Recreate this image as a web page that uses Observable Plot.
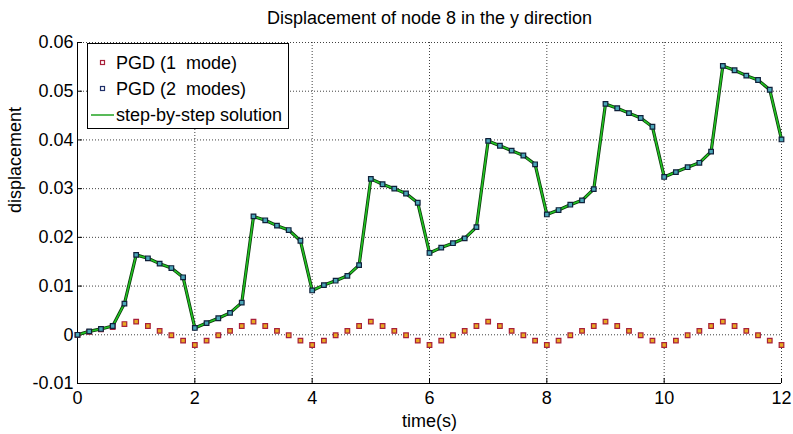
<!DOCTYPE html>
<html><head><meta charset="utf-8">
<script src="https://cdn.jsdelivr.net/npm/d3@7"></script>
<script src="https://cdn.jsdelivr.net/npm/@observablehq/plot@0.6"></script>
<style>body{margin:0;background:#fff} svg{display:block}</style>
</head><body><div id="chart"></div><script>
const titleText = "Displacement of node 8 in the y direction";
const xLabel = "time(s)";
const yLabel = "displacement";
const seriesNames = ["PGD (1  mode)", "PGD (2  modes)", "step-by-step solution"];
const xTicks = [0, 2, 4, 6, 8, 10, 12];
const yTicks = [-0.01, 0, 0.01, 0.02, 0.03, 0.04, 0.05, 0.06];
const time = [0,0.2,0.4,0.6,0.8,1,1.2,1.4,1.6,1.8,2,2.2,2.4,2.6,2.8,3,3.2,3.4,3.6,3.8,4,4.2,4.4,4.6,4.8,5,5.2,5.4,5.6,5.8,6,6.2,6.4,6.6,6.8,7,7.2,7.4,7.6,7.8,8,8.2,8.4,8.6,8.8,9,9.2,9.4,9.6,9.8,10,10.2,10.4,10.6,10.8,11,11.2,11.4,11.6,11.8,12];
const pgd1 = [0, 0.0006, 0.0011, 0.0016, 0.0022, 0.0027, 0.0018, 0.0008, -0.0001, -0.0012,
  -0.0021, -0.0012, -0.0001, 0.0008, 0.0018, 0.0027, 0.0018, 0.0008, -0.0001, -0.0012,
  -0.0021, -0.0012, -0.0001, 0.0008, 0.0018, 0.0027, 0.0018, 0.0008, -0.0001, -0.0012,
  -0.0021, -0.0012, -0.0001, 0.0008, 0.0018, 0.0027, 0.0018, 0.0008, -0.0001, -0.0012,
  -0.0021, -0.0012, -0.0001, 0.0008, 0.0018, 0.0027, 0.0018, 0.0008, -0.0001, -0.0012,
  -0.0021, -0.0012, -0.0001, 0.0008, 0.0018, 0.0027, 0.0018, 0.0008, -0.0001, -0.0012,
  -0.0021];
const pgd2 = [0.0000, 0.0007, 0.0012, 0.0018, 0.0064, 0.0164, 0.0157, 0.0146, 0.0137, 0.0118,
  0.0014, 0.0024, 0.0034, 0.0045, 0.0066, 0.0243, 0.0235, 0.0224, 0.0215, 0.0193,
  0.0091, 0.0102, 0.0111, 0.0121, 0.0143, 0.0320, 0.0309, 0.0300, 0.0290, 0.0271,
  0.0168, 0.0179, 0.0188, 0.0198, 0.0221, 0.0398, 0.0388, 0.0378, 0.0368, 0.0350,
  0.0247, 0.0256, 0.0267, 0.0276, 0.0299, 0.0474, 0.0465, 0.0455, 0.0445, 0.0427,
  0.0324, 0.0334, 0.0344, 0.0353, 0.0376, 0.0552, 0.0543, 0.0532, 0.0523, 0.0503,
  0.0401];
const stepSol = [0.0000, 0.0007, 0.0012, 0.0018, 0.0064, 0.0164, 0.0157, 0.0146, 0.0137, 0.0118,
  0.0014, 0.0024, 0.0034, 0.0045, 0.0066, 0.0243, 0.0235, 0.0224, 0.0215, 0.0193,
  0.0091, 0.0102, 0.0111, 0.0121, 0.0143, 0.0320, 0.0309, 0.0300, 0.0290, 0.0271,
  0.0168, 0.0179, 0.0188, 0.0198, 0.0221, 0.0398, 0.0388, 0.0378, 0.0368, 0.0350,
  0.0247, 0.0256, 0.0267, 0.0276, 0.0299, 0.0474, 0.0465, 0.0455, 0.0445, 0.0427,
  0.0324, 0.0334, 0.0344, 0.0353, 0.0376, 0.0552, 0.0543, 0.0532, 0.0523, 0.0503,
  0.0401];

const d1 = time.map((t, i) => ({t, v: pgd1[i]}));
const d2 = time.map((t, i) => ({t, v: pgd2[i]}));
const ds = time.map((t, i) => ({t, v: stepSol[i]}));
const font = "'Liberation Sans', Arial, Helvetica, sans-serif";

const chart = Plot.plot({
  width: 793, height: 434,
  marginLeft: 77, marginRight: 12, marginTop: 42, marginBottom: 51,
  style: {fontFamily: font, fontSize: "17px", color: "#000", background: "#fff", overflow: "visible"},
  x: {domain: [0, 12]},
  y: {domain: [-0.01, 0.06]},
  marks: [
    Plot.gridX(xTicks, {stroke: "#000", strokeOpacity: 0.75, strokeDasharray: "1,2"}),
    Plot.gridY(yTicks, {stroke: "#000", strokeOpacity: 0.75, strokeDasharray: "1,2"}),
    Plot.ruleX([0], {stroke: "#000", strokeWidth: 1}),
    Plot.ruleY([-0.01], {stroke: "#000", strokeWidth: 1}),
    Plot.axisX(xTicks, {tickSize: 0, tickPadding: 8, tickFormat: d => String(d), label: null, fontSize: 18}),
    Plot.axisY(yTicks, {tickSize: 0, tickPadding: 4, tickFormat: d => d === 0 ? "0" : String(d), label: null, fontSize: 18}),
    Plot.axisX(xTicks, {tickSize: -5, tickFormat: () => "", label: null}),
    Plot.axisY(yTicks, {tickSize: -5, tickFormat: () => "", label: null}),
    Plot.line(ds, {x: "t", y: "v", stroke: "#0b3a0b", strokeWidth: 3.2}),
    Plot.line(ds, {x: "t", y: "v", stroke: "#22c322", strokeWidth: 1.6}),
    Plot.dot(d1, {x: "t", y: "v", symbol: "square", r: 2.6, stroke: "#a8203a", strokeWidth: 1.2, fill: "#e8a820"}),
    Plot.dot(d2, {x: "t", y: "v", symbol: "square", r: 2.6, stroke: "#10203a", strokeWidth: 1.2, fill: "#4aa6b8"}),
    Plot.text([titleText], {frameAnchor: "top", dy: -24, lineAnchor: "middle", fontSize: 18, fontFamily: font}),
    Plot.text([xLabel], {frameAnchor: "bottom", dy: 38, lineAnchor: "middle", fontSize: 18, fontFamily: font}),
    Plot.text([yLabel], {frameAnchor: "left", dx: -62, rotate: -90, lineAnchor: "middle", fontSize: 18, fontFamily: font})
  ]
});
document.getElementById("chart").appendChild(chart);

// Legend
const svg = d3.select(chart);
const lg = svg.append("g").attr("font-family", font).attr("font-size", 18).attr("text-anchor", "start");
lg.append("rect").attr("x", 87.5).attr("y", 43.5).attr("width", 201).attr("height", 85)
  .attr("fill", "#fff").attr("stroke", "#000").attr("stroke-width", 1);
const rows = [
  {y: 63, type: "sq", stroke: "#a8203a"},
  {y: 89, type: "sq", stroke: "#20306a"},
  {y: 115, type: "line", stroke: "#22a322"}
];
rows.forEach((r, i) => {
  if (r.type === "sq") {
    lg.append("rect").attr("x", 100.5).attr("y", r.y - 2.5).attr("width", 4).attr("height", 4)
      .attr("fill", "#fff").attr("stroke", r.stroke).attr("stroke-width", 1.2);
  } else {
    lg.append("line").attr("x1", 91).attr("x2", 114).attr("y1", r.y).attr("y2", r.y)
      .attr("stroke", r.stroke).attr("stroke-width", 1.5);
  }
  lg.append("text").attr("x", 116).attr("y", r.y).attr("dy", "0.35em")
    .style("white-space", "pre").attr("xml:space", "preserve").text(seriesNames[i]);
});
</script></body></html>
